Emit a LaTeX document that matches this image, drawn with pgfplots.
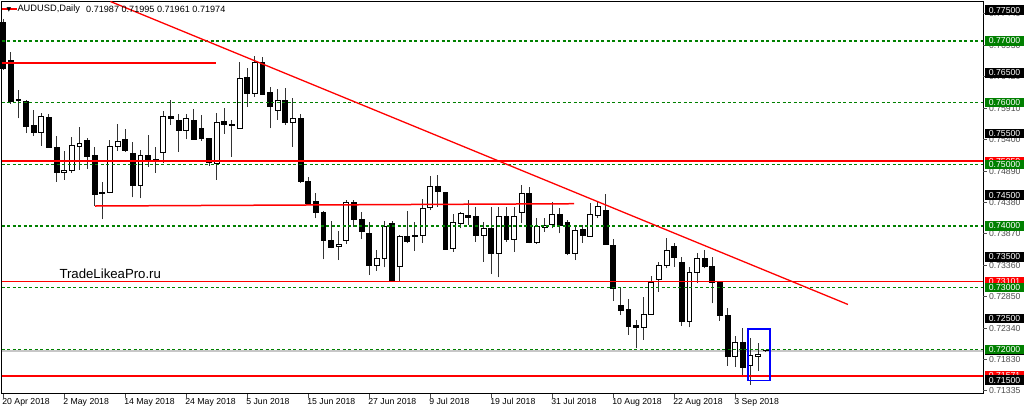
\documentclass[border=0pt]{standalone}
\usepackage{fontspec}
\setmainfont{Liberation Sans}
\newfontfamily\dejavu{DejaVu Sans}
\usepackage{pgfplots}
\usepackage{pgfplotstable}
\pgfplotsset{compat=1.18}
\definecolor{mtgreen}{RGB}{0,128,0}
\definecolor{mtred}{RGB}{255,0,0}
\definecolor{mtblue}{RGB}{0,0,255}
\newcommand\lblfont{\fontsize{8.7}{10}\selectfont}

\pgfplotstableread{
i O H L C
0 0.77297 0.77357 0.76530 0.76557
1 0.76692 0.76827 0.75978 0.76016
2 0.76051 0.76205 0.75746 0.76035
3 0.76027 0.76043 0.75508 0.75622
4 0.75626 0.75881 0.75459 0.75513
5 0.75513 0.75832 0.75302 0.75772
6 0.75756 0.75816 0.75265 0.75270
7 0.75270 0.75459 0.74718 0.74864
8 0.74871 0.75216 0.74746 0.74908
9 0.74897 0.75438 0.74864 0.75302
10 0.75297 0.75600 0.74908 0.75346
11 0.75394 0.75422 0.74924 0.75124
12 0.75140 0.75286 0.74329 0.74514
13 0.74538 0.74709 0.74108 0.74522
14 0.74546 0.75394 0.74530 0.75286
15 0.75286 0.75654 0.75221 0.75378
16 0.75406 0.75568 0.75205 0.75221
17 0.75184 0.75367 0.74465 0.74665
18 0.74665 0.75232 0.74449 0.75140
19 0.75151 0.75476 0.74962 0.75082
20 0.75078 0.75276 0.74864 0.75062
21 0.75189 0.75870 0.75017 0.75784
22 0.75784 0.76043 0.75638 0.75740
23 0.75719 0.75816 0.75205 0.75545
24 0.75545 0.75816 0.75406 0.75746
25 0.75719 0.75892 0.75400 0.75406
26 0.75578 0.75795 0.75383 0.75416
27 0.75427 0.75430 0.74973 0.75026
28 0.75017 0.75837 0.74746 0.75682
29 0.75691 0.75918 0.75492 0.75654
30 0.75646 0.75719 0.75124 0.75630
31 0.75589 0.76660 0.75580 0.76395
32 0.76405 0.76557 0.75935 0.76152
33 0.76152 0.76757 0.76097 0.76660
34 0.76660 0.76745 0.76124 0.76141
35 0.76168 0.76259 0.75584 0.75946
36 0.75881 0.76217 0.75719 0.76043
37 0.76032 0.76233 0.75638 0.75682
38 0.75682 0.76071 0.75286 0.75746
39 0.75746 0.75816 0.74702 0.74718
40 0.74730 0.74799 0.74340 0.74368
41 0.74394 0.74530 0.74125 0.74215
42 0.74215 0.74248 0.73460 0.73773
43 0.73761 0.74086 0.73638 0.73648
44 0.73664 0.73924 0.73448 0.73708
45 0.73761 0.74421 0.73708 0.74378
46 0.74378 0.74421 0.73988 0.74113
47 0.74113 0.74232 0.73784 0.73907
48 0.73881 0.74070 0.73205 0.73367
49 0.73367 0.73611 0.73275 0.73476
50 0.73476 0.74086 0.73330 0.74000
51 0.74044 0.74086 0.73096 0.73113
52 0.73351 0.73854 0.73096 0.73826
53 0.73838 0.74243 0.73719 0.73745
54 0.73846 0.74070 0.73599 0.73830
55 0.73854 0.74433 0.73729 0.74287
56 0.74297 0.74811 0.74259 0.74637
57 0.74637 0.74827 0.74313 0.74556
58 0.74540 0.74545 0.73611 0.73627
59 0.73643 0.74194 0.73583 0.74053
60 0.74044 0.74232 0.73962 0.74206
61 0.74178 0.74421 0.74016 0.74141
62 0.74162 0.74313 0.73745 0.73854
63 0.73854 0.74070 0.73421 0.73962
64 0.73962 0.74313 0.73221 0.73557
65 0.73557 0.74303 0.73168 0.74162
66 0.74162 0.74313 0.73745 0.73784
67 0.73784 0.74313 0.73583 0.74162
68 0.74215 0.74665 0.74044 0.74530
69 0.74530 0.74627 0.73719 0.73729
70 0.73729 0.74125 0.73708 0.73988
71 0.73979 0.74125 0.73907 0.74016
72 0.74032 0.74394 0.73962 0.74190
73 0.74190 0.74287 0.73881 0.74016
74 0.74060 0.74097 0.73529 0.73557
75 0.73557 0.74016 0.73448 0.73935
76 0.73951 0.74016 0.73729 0.73854
77 0.73838 0.74368 0.73826 0.74190
78 0.74178 0.74394 0.74125 0.74313
79 0.74259 0.74519 0.73700 0.73708
80 0.73692 0.73784 0.72783 0.72989
81 0.72719 0.72989 0.72556 0.72637
82 0.72649 0.72811 0.72232 0.72367
83 0.72394 0.72475 0.72016 0.72357
84 0.72357 0.72843 0.72151 0.72568
85 0.72568 0.73189 0.72560 0.73080
86 0.73135 0.73421 0.72934 0.73367
87 0.73356 0.73800 0.73314 0.73599
88 0.73664 0.73719 0.73340 0.73492
89 0.73411 0.73492 0.72378 0.72448
90 0.72448 0.73340 0.72357 0.73249
91 0.73249 0.73557 0.73070 0.73476
92 0.73476 0.73611 0.73314 0.73340
93 0.73340 0.73492 0.72746 0.73080
94 0.73096 0.73100 0.72464 0.72545
95 0.72545 0.72665 0.71734 0.71880
96 0.71880 0.72216 0.71718 0.72107
97 0.72107 0.72341 0.71546 0.71708
98 0.71745 0.72178 0.71421 0.71908
99 0.71880 0.72097 0.71653 0.71924
100 0.71987 0.71995 0.71961 0.71974
}\candles

\begin{document}
\begin{tikzpicture}
\useasboundingbox (0,0) rectangle (1024pt,414pt);
\begin{axis}[
  at={(1.5pt,20pt)}, anchor=south west,
  width=981.8pt, height=392.5pt, scale only axis,
  xmin=-0.223, xmax=128.54, ymin=0.71275, ymax=0.77641,
  axis line style={line width=1pt, black},
  xtick={0,8,...,96},
  xticklabels={20 Apr 2018, 2 May 2018, 14 May 2018, 24 May 2018, 5 Jun 2018, 15 Jun 2018, 27 Jun 2018, 9 Jul 2018, 19 Jul 2018, 31 Jul 2018, 10 Aug 2018, 22 Aug 2018, 3 Sep 2018},
  xtick pos=bottom, tick align=outside, major tick length=4pt,
  tick style={line width=1pt, black!70},
  xticklabel style={anchor=north west, inner sep=0pt, xshift=-1pt, font=\lblfont},
  ytick=\empty,
  clip=false,
]
% bid line
\addplot[draw=black!22, line width=1.2pt] coordinates {(-0.22,0.71974) (128.53,0.71974)};
% wicks
\addplot[draw=none, mark=none,
  error bars/.cd, y dir=plus, y explicit, error mark=none,
  error bar style={draw=black!80, line width=1pt, solid}]
  table[x=i, y=L, y error expr=\thisrow{H}-\thisrow{L}] {\candles};
% bodies
\pgfplotstablegetrowsof{\candles}
\pgfmathtruncatemacro\lastrow{\pgfplotsretval-1}
\pgfplotsforeachungrouped \r in {0,...,\lastrow}{%
  \pgfplotstablegetelem{\r}{i}\of{\candles}\let\ci\pgfplotsretval
  \pgfplotstablegetelem{\r}{O}\of{\candles}\let\co\pgfplotsretval
  \pgfplotstablegetelem{\r}{C}\of{\candles}\let\cc\pgfplotsretval
  \pgfmathsetmacro\xl{\ci-0.32}%
  \pgfmathsetmacro\xr{\ci+0.32}%
  \ifdim\cc pt>\co pt \def\bfill{white}\else\def\bfill{black}\fi
  \edef\temp{\noexpand\addplot[draw=black, fill=\bfill, line width=0.9pt] coordinates {(\xl,\co) (\xr,\co) (\xr,\cc) (\xl,\cc)} -- cycle;}%
  \temp
}
% green dashed levels
\pgfplotsinvokeforeach{0.77,0.76,0.75,0.74,0.73,0.72}{%
  \addplot[draw=mtgreen, line width=1.3pt, dash pattern=on 3pt off 2.5pt] coordinates {(-0.22,#1) (128.53,#1)};
}
% red horizontal lines
\pgfplotsinvokeforeach{0.75050,0.73101,0.71571}{%
  \addplot[draw=mtred, line width=1.7pt] coordinates {(-0.22,#1) (128.53,#1)};
}
\addplot[draw=mtred, line width=1.7pt] coordinates {(-0.22,0.76638) (27.91,0.76638)};
\addplot[draw=mtred, line width=1.5pt] coordinates {(12.04,0.74324) (74.86,0.74361)};
\addplot[draw=mtred, line width=1.7pt] coordinates {(-0.22,0.77514) (1.81,0.77514)};
% trend line
\addplot[draw=mtred, line width=1.3pt] coordinates {(14.06,0.77641) (110.79,0.72727)};
% blue box
\addplot[draw=mtblue, line width=1.6pt] coordinates {(97.64,0.72334) (100.56,0.72334) (100.56,0.71491) (97.64,0.71491)} -- cycle;
\end{axis}
% right price scale (drawn outside the axis)
\begin{scope}[x=1pt,y=1pt]
\foreach \p/\yy in {0.77440/400.1,0.76930/368.7,0.76420/337.2,0.75910/305.8,0.75400/274.3,0.74890/242.9,0.74380/211.4,0.73870/180.0,0.73360/148.5,0.72850/117.1,0.72340/85.6,0.71830/54.2,0.71335/23.7}{
  \draw[black!70, line width=1pt] (983.3,\yy) -- ++(3.5,0);
  \node[anchor=west, inner sep=0pt, text=black!70, font=\lblfont] at (988.8,\yy) {\p};
}
\foreach \p/\yy in {0.75050/252.7,0.73101/132.6,0.71571/38.2}{
  \node[anchor=west, inner sep=0pt, fill=mtred, text=white, minimum width=39.5pt, minimum height=9.5pt, font=\lblfont] at (984.6,\yy) {\p};
}
\node[anchor=west, inner sep=0pt, fill=black, text=white, minimum width=39.5pt, minimum height=9.5pt, font=\lblfont] at (984.6,63.9) {0.71974};
\foreach \p/\yy in {0.77500/403.8,0.76500/341.1,0.75500/280.5,0.74500/218.9,0.73500/157.2,0.72500/95.6,0.71500/33.9}{
  \node[anchor=west, inner sep=0pt, fill=black, text=white, minimum width=39.5pt, minimum height=9.5pt, font=\lblfont] at (984.6,\yy) {\p};
}
\foreach \p/\yy in {0.77000/373.0,0.76000/311.3,0.75000/249.7,0.74000/188.0,0.73000/126.4,0.72000/64.7}{
  \node[anchor=west, inner sep=0pt, fill=mtgreen, text=white, minimum width=39.5pt, minimum height=9.5pt, font=\lblfont] at (984.6,\yy) {\p};
}
\end{scope}
\node[anchor=west, inner sep=0pt, font=\dejavu\fontsize{6}{6}\selectfont] at (6.5pt,404.5pt) {▼};
\node[anchor=west, inner sep=0pt, font=\fontsize{9.3}{10}\selectfont] at (17.3pt,404.5pt) {AUDUSD,Daily};
\node[anchor=west, inner sep=0pt, font=\fontsize{9.1}{10}\selectfont] at (86pt,404.5pt) {0.71987 0.71995 0.71961 0.71974};
\node[anchor=base west, inner sep=0pt, font=\fontsize{13.2}{15}\selectfont] at (59.3pt,135pt) {TradeLikeaPro.ru};
\end{tikzpicture}
\end{document}
